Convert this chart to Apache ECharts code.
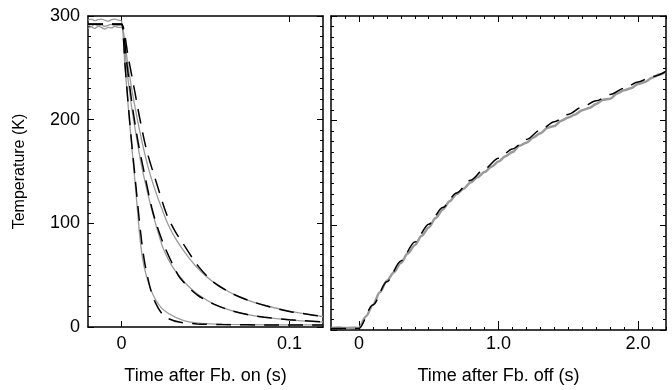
<!DOCTYPE html>
<html><head><meta charset="utf-8">
<script src="https://cdn.jsdelivr.net/npm/echarts@6/dist/echarts.min.js"></script>
<style>html,body{margin:0;padding:0;background:#fff}#c{width:672px;height:390px}</style>
</head><body><div id="c"></div>
<script>
// ---- Left panel (Fb. on) ----
const leftPreTime = [-0.02, -0.018, -0.016, -0.014, -0.012, -0.01, -0.008, -0.006, -0.004, -0.002, 0];
const grayPreA = [296, 297, 295.5, 296.5, 297, 296, 295, 296.5, 297, 296, 295];
const grayPreB = [291, 290, 292, 290.5, 291.5, 290, 291, 292, 290.5, 291, 291];
const grayPreC = [288, 289.5, 288, 290, 289, 287.5, 289, 288.5, 290, 289, 289];
const modelPre = [292, 292, 292, 292, 292, 292, 292, 292, 292, 292, 292];

const fastGrayTime = [0.002, 0.004, 0.006, 0.008, 0.0095, 0.011, 0.0125, 0.0145, 0.017, 0.02, 0.024, 0.028, 0.034, 0.04, 0.05, 0.065, 0.09, 0.12];
const fastGray = [252, 212, 175, 140, 112, 85, 66, 51, 38, 27, 18, 13, 8, 5, 3.3, 2.5, 2.1, 2];
const midGrayTime = [0.003, 0.006, 0.009, 0.012, 0.016, 0.019, 0.022, 0.025, 0.03, 0.035, 0.04, 0.045, 0.055, 0.065, 0.075, 0.085, 0.1, 0.11, 0.12];
const midGray = [250, 212, 182, 155, 126, 107, 90, 75, 59, 48, 39, 32, 22, 16, 12, 9.5, 6.8, 5.6, 4.8];
const slowGrayTime = [0.004, 0.008, 0.012, 0.016, 0.02, 0.024, 0.028, 0.033, 0.04, 0.047, 0.055, 0.065, 0.075, 0.086, 0.1, 0.11, 0.12];
const slowGray = [250, 212, 180, 153, 132, 114, 98, 83, 67, 54, 43, 33, 26, 20.5, 15.3, 12.5, 10];

const fastModelTime = [0.002, 0.004, 0.006, 0.008, 0.01, 0.012, 0.014, 0.017, 0.02, 0.024, 0.028, 0.035, 0.045, 0.06, 0.09, 0.12];
const fastModel = [254, 214, 178, 145, 112, 82, 60, 38, 24, 13, 8, 4.5, 3, 2.3, 2, 2];
const midModelTime = [0.003, 0.0065, 0.01, 0.014, 0.018, 0.021, 0.025, 0.03, 0.035, 0.045, 0.055, 0.065, 0.075, 0.085, 0.1, 0.12];
const midModel = [256, 212, 177, 145, 115, 98, 80, 62, 47, 31, 22, 16, 12, 9.5, 7, 5];
const slowModelTime = [0.004, 0.008, 0.011, 0.015, 0.021, 0.027, 0.032, 0.036, 0.046, 0.055, 0.065, 0.075, 0.086, 0.1, 0.11, 0.12];
const slowModel = [260, 226, 200, 170, 138, 108, 92, 82, 58, 43, 33, 26, 20.5, 15, 12.5, 10];

// ---- Right panel (Fb. off) ----
const rightTime = [-0.2, -0.15, -0.1, -0.05, 0, 0.05, 0.1, 0.15, 0.2, 0.25, 0.3, 0.35, 0.4, 0.45, 0.5, 0.55, 0.6, 0.65, 0.7, 0.75, 0.8, 0.85, 0.9, 0.95, 1.0, 1.05, 1.1, 1.15, 1.2, 1.25, 1.3, 1.35, 1.4, 1.45, 1.5, 1.55, 1.6, 1.65, 1.7, 1.75, 1.8, 1.85, 1.9, 1.95, 2.0, 2.05, 2.1, 2.15, 2.2];
const rightGray = [2, 2.5, 1.8, 2.2, 2, 13, 24, 36, 47, 55, 64, 73, 81, 90, 98, 107, 115, 123, 130, 135, 141, 146, 151, 156, 161, 166, 170, 176, 179, 184, 188, 193, 195, 200, 203, 206, 210, 212, 216, 220, 221, 226, 229, 231, 235, 237, 241, 244, 247];
const modelTime = [-0.2, 0, 0.1, 0.2, 0.3, 0.4, 0.5, 0.6, 0.7, 0.8, 0.9, 1.0, 1.1, 1.2, 1.3, 1.4, 1.5, 1.6, 1.7, 1.8, 1.9, 2.0, 2.1, 2.2];
const rightModel = [1.5, 1.5, 24, 46, 66, 84, 101, 117, 131, 143, 154, 164, 173, 182, 191, 199, 206, 213, 219, 225, 231, 237, 242, 247];

// tick positions / labels
const leftXTicks = [0, 0.1];
const leftXLabels = {0: '0', 0.1: '0.1'};
const rightXTicks = [0, 1, 2];
const rightXLabels = {0: '0', 1: '1.0', 2: '2.0'};
const yTicks = [0, 100, 200, 300];

function pairs(t, v) { return t.map((x, i) => [x, v[i]]); }
function withPre(pre, t, v) { return pairs(leftPreTime, pre).concat(pairs(t, v)); }

const FONT = '"Liberation Sans", Arial, Helvetica, sans-serif';
const axLine = { show: true, onZero: false, lineStyle: { color: '#000', width: 1.5 } };
const noLine = { show: false, onZero: false };
const GRAY = '#9a9a9a';

const gridL = { left: 88, top: 16, width: 235, height: 314 };
const gridR = { left: 331, top: 16, width: 335, height: 314 };

function yAx(gi, pos, labels) {
  return {
    type: 'value', gridIndex: gi, position: pos, min: 0, max: 300, interval: 100,
    axisLine: axLine, splitLine: { show: false },
    axisTick: { show: true, inside: true, length: 6, lineStyle: { color: '#000', width: 1 } },
    minorTick: { show: true, splitNumber: 10, length: 3, lineStyle: { color: '#000', width: 1 } },
    axisLabel: { show: labels, margin: 8, fontSize: 18, color: '#000', fontFamily: FONT },
    name: labels ? 'Temperature (K)' : '', nameLocation: 'middle', nameGap: 60, nameRotate: 90,
    nameTextStyle: { fontSize: 16, color: '#000', fontFamily: FONT }
  };
}

const option = {
  animation: false,
  grid: [Object.assign({}, gridL), Object.assign({}, gridR), Object.assign({}, gridR)],
  xAxis: [
    // 0: left bottom
    { type: 'value', gridIndex: 0, position: 'bottom', min: -0.02, max: 0.12,
      axisLine: axLine, splitLine: { show: false },
      axisTick: { show: true, inside: true, length: 6, customValues: leftXTicks, lineStyle: { color: '#000' } },
      axisLabel: { show: true, customValues: leftXTicks, margin: 8, fontSize: 18, color: '#000', fontFamily: FONT,
        formatter: v => leftXLabels[v] !== undefined ? leftXLabels[v] : String(v) },
      name: 'Time after Fb. on (s)', nameLocation: 'middle', nameGap: 40,
      nameTextStyle: { fontSize: 18, color: '#000', fontFamily: FONT } },
    // 1: left top
    { type: 'value', gridIndex: 0, position: 'top', min: -0.02, max: 0.12,
      axisLine: axLine, splitLine: { show: false },
      axisTick: { show: true, inside: true, length: 6, customValues: leftXTicks, lineStyle: { color: '#000' } },
      axisLabel: { show: false } },
    // 2: right bottom minor
    { type: 'value', gridIndex: 1, position: 'bottom', min: -0.2, max: 2.2, interval: 0.1,
      axisLine: axLine, splitLine: { show: false },
      axisTick: { show: true, inside: true, length: 3, lineStyle: { color: '#000' } },
      axisLabel: { show: false } },
    // 3: right top minor
    { type: 'value', gridIndex: 1, position: 'top', min: -0.2, max: 2.2, interval: 0.1,
      axisLine: axLine, splitLine: { show: false },
      axisTick: { show: true, inside: true, length: 3, lineStyle: { color: '#000' } },
      axisLabel: { show: false } },
    // 4: right bottom major
    { type: 'value', gridIndex: 2, position: 'bottom', min: -0.2, max: 2.2,
      axisLine: noLine, splitLine: { show: false },
      axisTick: { show: true, inside: true, length: 6, customValues: rightXTicks, lineStyle: { color: '#000' } },
      axisLabel: { show: true, customValues: rightXTicks, margin: 8, fontSize: 18, color: '#000', fontFamily: FONT,
        formatter: v => rightXLabels[v] !== undefined ? rightXLabels[v] : String(v) },
      name: 'Time after Fb. off (s)', nameLocation: 'middle', nameGap: 40,
      nameTextStyle: { fontSize: 18, color: '#000', fontFamily: FONT } },
    // 5: right top major
    { type: 'value', gridIndex: 2, position: 'top', min: -0.2, max: 2.2,
      axisLine: noLine, splitLine: { show: false },
      axisTick: { show: true, inside: true, length: 6, customValues: rightXTicks, lineStyle: { color: '#000' } },
      axisLabel: { show: false } }
  ],
  yAxis: [
    yAx(0, 'left', true),
    yAx(0, 'right', false),
    yAx(1, 'left', false),
    yAx(1, 'right', false),
    { type: 'value', gridIndex: 2, min: 0, max: 300, show: false }
  ],
  series: []
};

function line(data, xi, yi, style, z, mono) {
  const s = { type: 'line', xAxisIndex: xi, yAxisIndex: yi, data: data, showSymbol: false, symbol: 'none',
    smooth: 0.3, lineStyle: style, z: z, silent: true };
  if (mono) s.smoothMonotone = 'x';
  return s;
}
const grayThin = { color: GRAY, width: 1.3 };
const dash = { color: '#000', width: 1.5, type: [15, 9] };

option.series.push(line(withPre(grayPreA, slowGrayTime, slowGray), 0, 0, grayThin, 2, false));
option.series.push(line(withPre(grayPreB, midGrayTime, midGray), 0, 0, grayThin, 2, false));
option.series.push(line(withPre(grayPreC, fastGrayTime, fastGray), 0, 0, grayThin, 2, false));
option.series.push(line(withPre(modelPre, slowModelTime, slowModel), 0, 0, dash, 3, false));
option.series.push(line(withPre(modelPre, midModelTime, midModel), 0, 0, dash, 3, false));
option.series.push(line(withPre(modelPre, fastModelTime, fastModel), 0, 0, dash, 3, false));

option.series.push(line(pairs(rightTime, rightGray), 2, 2, { color: GRAY, width: 2.5 }, 2, true));
option.series.push(line(pairs(modelTime, rightModel), 2, 2, dash, 3, true));

const chart = echarts.init(document.getElementById('c'), null, { renderer: 'canvas' });
chart.setOption(option);
</script></body></html>
